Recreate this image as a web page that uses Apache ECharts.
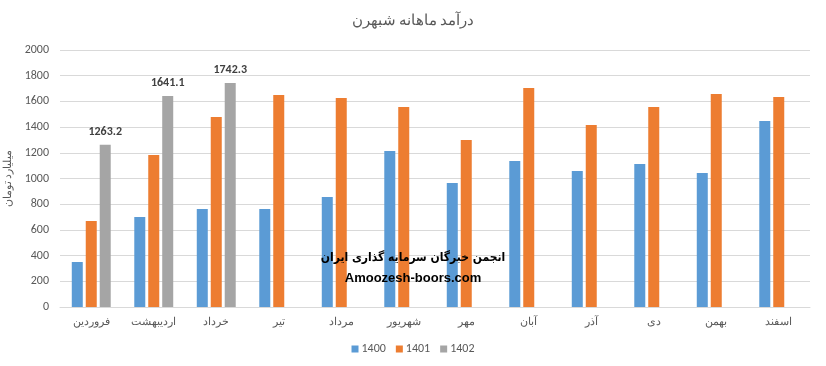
<!DOCTYPE html>
<html><head><meta charset="utf-8">
<script src="https://cdn.jsdelivr.net/npm/echarts@6/dist/echarts.min.js"></script>
<style>html,body{margin:0;padding:0;background:#fff}#c{width:826px;height:366px}</style>
</head><body><div id="c"></div>
<script>
const categories = ['فروردین','اردیبهشت','خرداد','تیر','مرداد','شهریور','مهر','آبان','آذر','دی','بهمن','اسفند'];
const s1400 = [350,700,763,763,856,1214,965,1136,1058,1113,1043,1447];
const s1401 = [669,1183,1479,1650,1626,1556,1300,1704,1416,1556,1658,1634];
const s1402 = [1263.2,1641.1,1742.3,null,null,null,null,null,null,null,null,null];
const seriesNames = ['1400','1401','1402'];
const colors = ['#5B9BD5','#ED7D31','#A5A5A5'];
const chart = echarts.init(document.getElementById('c'));
const font = 'Calibri, "Liberation Sans", "Noto Sans", sans-serif';
chart.setOption({
  animation:false,
  color:colors,
  title:{text:'درآمد ماهانه شبهرن',left:'center',top:9,textStyle:{fontFamily:font,fontSize:15,fontWeight:'normal',color:'#595959'}},
  legend:{bottom:6,left:'center',itemWidth:7,itemHeight:7,itemGap:10,icon:'rect',textStyle:{fontFamily:font,fontSize:12,color:'#595959',padding:[0,0,0,-2]},data:seriesNames},
  grid:{left:60,right:16,top:50,bottom:59,containLabel:false,outerBoundsMode:'none'},
  xAxis:{type:'category',data:categories,axisTick:{show:false},axisLine:{lineStyle:{color:'#D9D9D9'}},axisLabel:{fontFamily:font,fontSize:11,color:'#595959',margin:10}},
  yAxis:{type:'value',min:0,max:2000,interval:200,name:'میلیارد تومان',nameLocation:'middle',nameGap:44,nameTextStyle:{fontFamily:font,fontSize:11,color:'#595959'},axisLine:{show:false},axisLabel:{fontFamily:font,fontSize:12,color:'#595959',margin:11,formatter:v=>String(v)},splitLine:{lineStyle:{color:'#D9D9D9'}}},
  series:[
    {name:'1400',type:'bar',data:s1400,barWidth:11,barGap:'27%'},
    {name:'1401',type:'bar',data:s1401,barWidth:11,barGap:'27%'},
    {name:'1402',type:'bar',data:s1402,barWidth:11,barGap:'27%',label:{show:true,position:'top',distance:7,fontFamily:font,fontSize:12,fontWeight:'bold',color:'#404040'}}
  ],
  graphic:[
    {type:'text',left:'center',top:252,z:100,style:{text:'انجمن خبرگان سرمایه گذاری ایران',font:'bold 12px "DejaVu Sans Condensed", "DejaVu Sans", sans-serif',fill:'#000'}},
    {type:'text',left:'center',top:272,z:100,style:{text:'Amoozesh-boors.com',font:'bold 13px "Liberation Sans", sans-serif',fill:'#000'}}
  ]
});
</script></body></html>
